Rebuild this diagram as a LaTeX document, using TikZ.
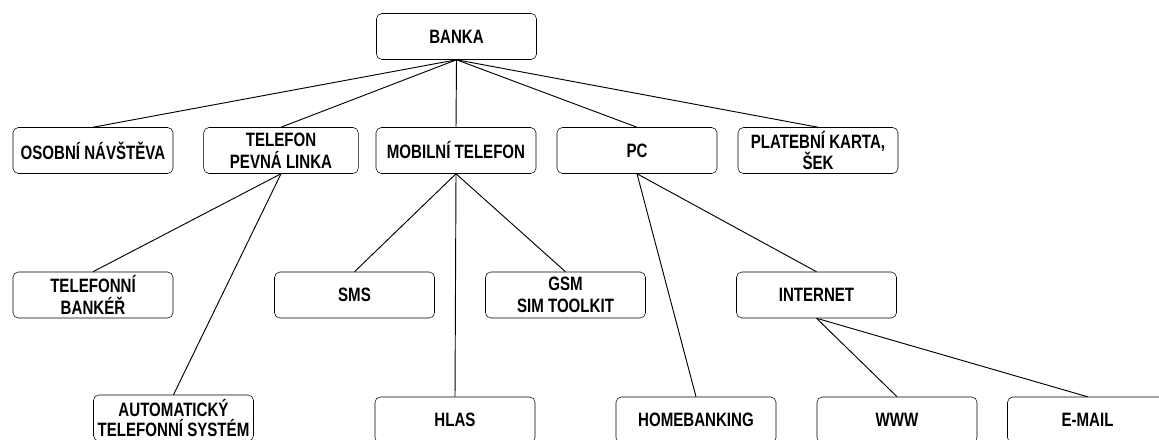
\documentclass[tikz,border=0pt]{standalone}
\usepackage{fontspec}
\setmainfont{Liberation Sans}
\newfontfamily\narrowfont{Liberation Sans}[FakeStretch=0.78]
\usepackage{tikz}

\begin{document}
\begin{tikzpicture}[x=0.75pt,y=-0.75pt,
  box/.style={draw,rounded corners=4pt,minimum width=120pt,minimum height=34.5pt,
    align=center,inner sep=0pt,font=\narrowfont\bfseries\fontsize{14.5}{16.3}\selectfont},
  link/.style={line width=0.7pt}]
\useasboundingbox (0,0) rectangle (1159,439);
\clip (0,0) rectangle (1159,439);
\node[box] (banka) at (456.5,36.5) {BANKA};
% first level
\node[box] (osob) at (93,150.5) {OSOBNÍ NÁVŠTĚVA};
\node[box,minimum width=116pt] (tel) at (281,150.5) {TELEFON\\PEVNÁ LINKA};
\node[box] (mob) at (456,150.5) {MOBILNÍ TELEFON};
\node[box] (pc) at (637,150.5) {PC};
\node[box] (karta) at (818,150.5) {PLATEBNÍ KARTA,\\ŠEK};
% second level
\node[box] (bank) at (93,295) {TELEFONNÍ\\BANKÉŘ};
\node[box] (sms) at (354.5,295) {SMS};
\node[box] (gsm) at (565.5,295) {GSM\\SIM TOOLKIT};
\node[box] (inet) at (816.5,295) {INTERNET};
% third level
\node[box] (auto) at (173.5,418) {AUTOMATICKÝ\\[-1pt]TELEFONNÍ SYSTÉM};
\node[box] (hlas) at (455,420) {HLAS};
\node[box] (home) at (696,420) {HOMEBANKING};
\node[box] (www) at (897,420) {WWW};
\node[box] (mail) at (1087.5,420) {E-MAIL};
\foreach \n in {osob,tel,mob,pc,karta}
  \draw[link] (banka.south) -- (\n.north);
\draw[link] (tel.south) -- (bank.north);
\draw[link] (tel.south) -- (auto.north);
\foreach \n in {sms,hlas,gsm}
  \draw[link] (mob.south) -- (\n.north);
\draw[link] (pc.south) -- (home.north);
\draw[link] (pc.south) -- (inet.north);
\draw[link] (inet.south) -- (www.north);
\draw[link] (inet.south) -- (mail.north);
\end{tikzpicture}
\end{document}
